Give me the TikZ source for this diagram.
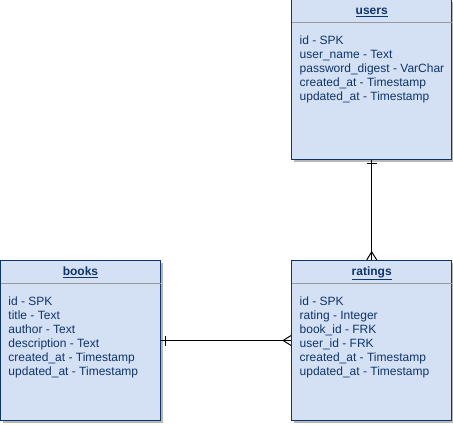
\documentclass[tikz,border=0pt]{standalone}
\usepackage{fontspec}
\setmainfont{Liberation Sans}
\usetikzlibrary{positioning,calc,shadows}
\definecolor{erfill}{HTML}{D4E1F5}
\definecolor{erline}{HTML}{0F3468}
\definecolor{ersep}{HTML}{9A9A9A}

\begin{document}
\begin{tikzpicture}[
    %–––– GLOBAL STYLE TWEAKS ––––
    x=1pt, y=-1pt,                                   % pixel-like grid, y downwards
    font=\fontsize{12}{14}\selectfont,
    node distance = 100pt and 130pt,                 % vert / horiz gap between tables
    entity/.style = {rectangle, draw=erline, fill=erfill, line width=1.2pt,
                     minimum width=160pt, minimum height=160pt, inner sep=0pt,
                     drop shadow={shadow xshift=2.5pt, shadow yshift=-2.5pt,
                                  fill=black!40, opacity=0.7}},
    head/.style   = {minimum width=160pt, minimum height=23pt, inner sep=0pt,
                     text height=12pt, text depth=4pt,
                     text=erline, font=\fontsize{12}{14}\selectfont\bfseries},
    attr/.style   = {align=left, inner sep=0pt, text=erline},
    sep/.style    = {draw=ersep, line width=1pt, shorten >=0.6pt, shorten <=0.6pt},
    link/.style   = {draw=black, line width=1pt},
]
\useasboundingbox (0,0) rectangle (453,425);

%–––– TABLES ––––
\node (books)   [entity] at (80.5,340.5) {};
\node (ratings) [entity, right=of books]   {};
\node (users)   [entity, above=of ratings] {};

%–––– HEADERS ––––
\foreach \t in {books, ratings, users} {
  \node (\t_head) [head, below=0pt of \t.north] {\underline{\t}};
  \draw[sep] (\t.west |- \t_head.south) -- (\t.east |- \t_head.south);
}

%–––– FIELDS ––––
\node (books_attr)   [attr, below right=13.5pt and 8pt of books_head.south west]
      {id - SPK\\title - Text\\author - Text\\description - Text\\created\_at - Timestamp\\updated\_at - Timestamp};
\node (ratings_attr) [attr, below right=13.5pt and 8pt of ratings_head.south west]
      {id - SPK\\rating - Integer\\book\_id - FRK\\user\_id - FRK\\created\_at - Timestamp\\updated\_at - Timestamp};
\node (users_attr)   [attr, below right=13.5pt and 8pt of users_head.south west]
      {id - SPK\\user\_name - Text\\password\_digest - VarChar\\created\_at - Timestamp\\updated\_at - Timestamp};

%–––– RELATIONS ––––
\foreach \a/\b in {users/ratings, books/ratings}
  \draw[link] (\a) -- (\b);

% one side
\draw[link] ([xshift=-5pt, yshift=-4pt]users.south) -- ([xshift=5pt, yshift=-4pt]users.south);
\draw[link] ([xshift=4pt, yshift=5pt]books.east) -- ([xshift=4pt, yshift=-5pt]books.east);
% many side
\draw[link] ([xshift=-5pt]ratings.north) -- ([yshift=8pt]ratings.north) -- ([xshift=5pt]ratings.north);
\draw[link] ([yshift=5pt]ratings.west) -- ([xshift=-8pt]ratings.west) -- ([yshift=-5pt]ratings.west);
\end{tikzpicture}
\end{document}
